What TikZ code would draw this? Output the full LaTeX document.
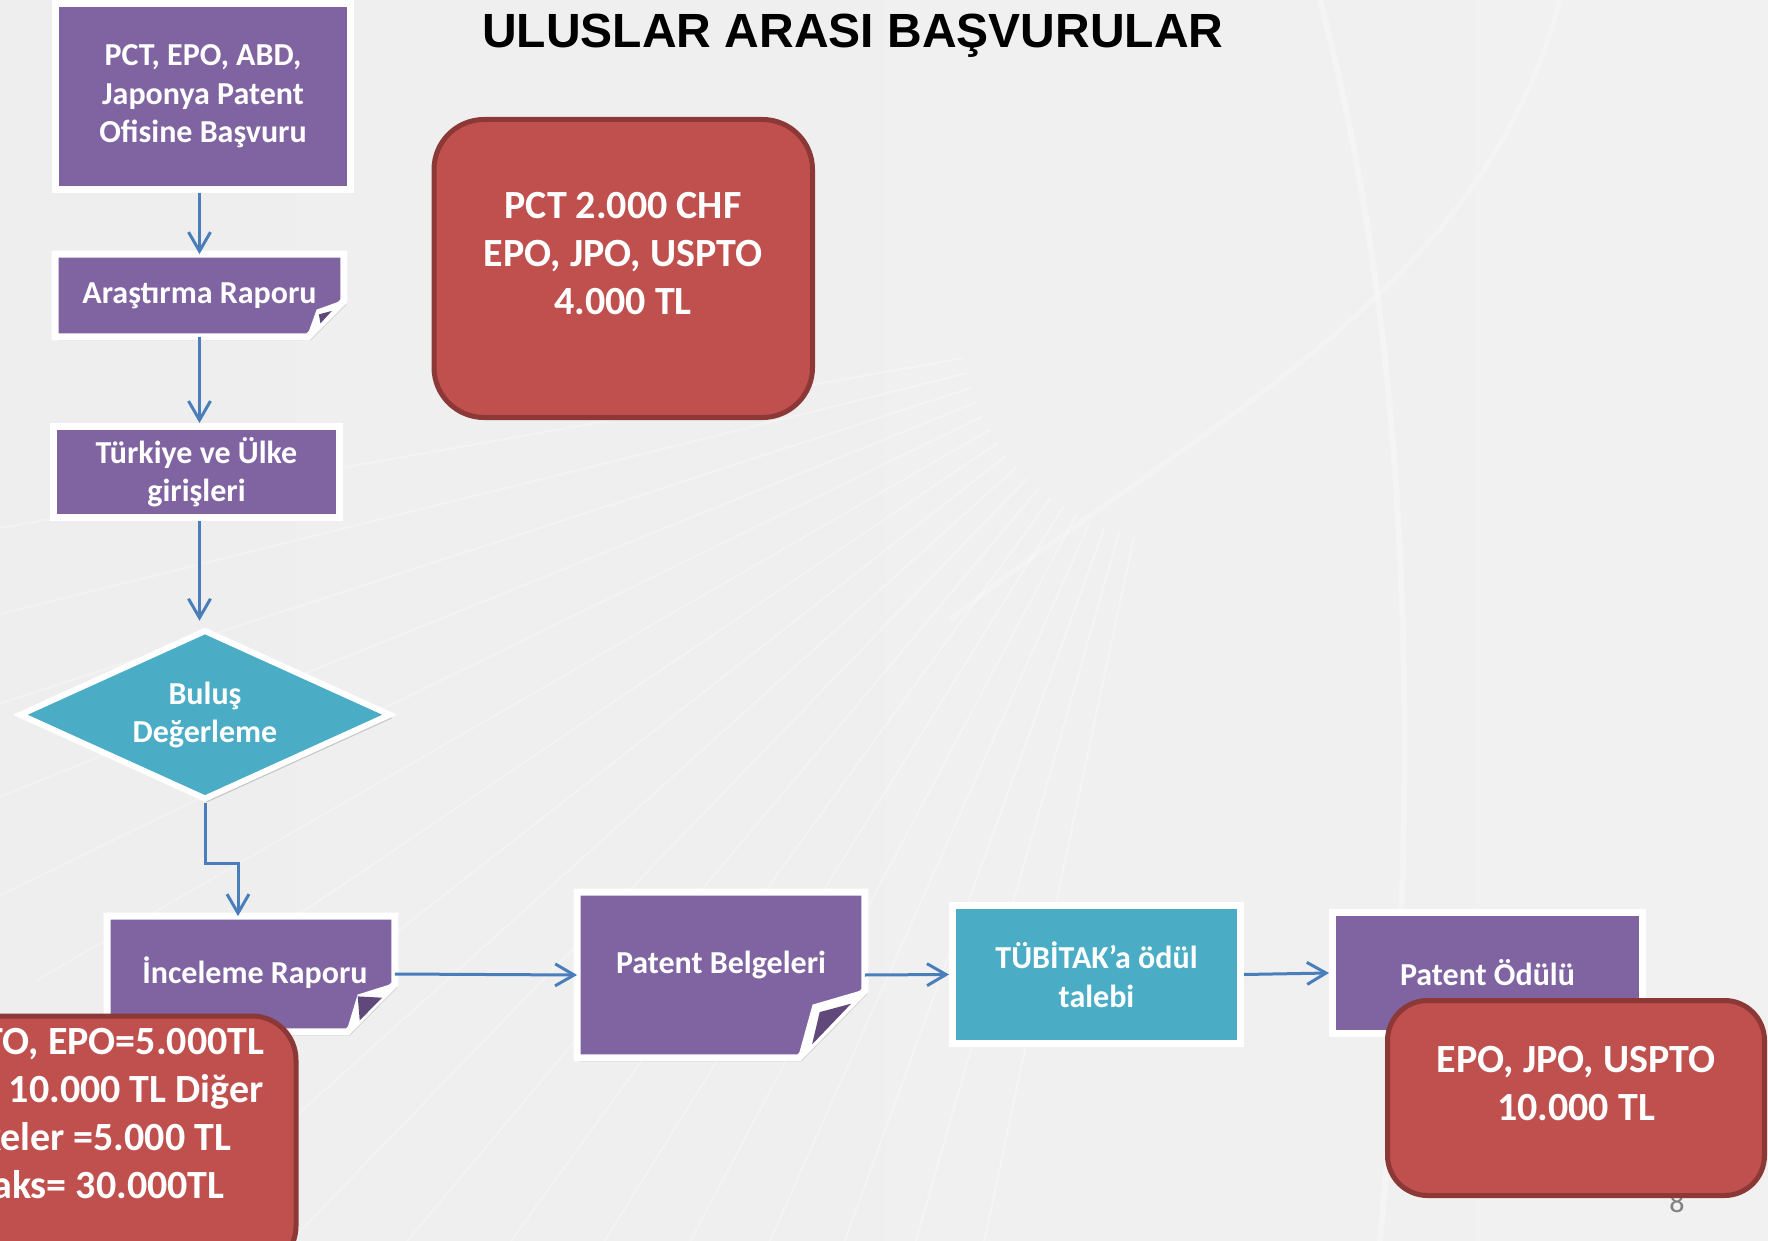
\documentclass[tikz,border=0pt]{standalone}
\usepackage{fontspec}
\newfontfamily\carl{Carlito}
\newfontfamily\arialf{Liberation Sans}
\usetikzlibrary{shapes.geometric,arrows.meta,shadows,calc}
\pgfdeclarelayer{bgzero}
\pgfdeclarelayer{background}
\pgfsetlayers{bgzero,background,main}
\definecolor{purp}{RGB}{128,100,162}
\definecolor{purpdark}{RGB}{96,73,122}
\definecolor{aqua}{RGB}{75,172,198}
\definecolor{redf}{RGB}{192,80,77}
\definecolor{redd}{RGB}{140,56,54}
\definecolor{arrblue}{RGB}{74,126,187}
\definecolor{bgl}{RGB}{238,238,238}
\definecolor{bgm}{RGB}{246,246,246}
\definecolor{bgr}{RGB}{241,241,241}
\tikzset{
  shad/.style={drop shadow={shadow xshift=1.2pt, shadow yshift=-1.8pt, opacity=0.16, fill=black}},
  boxtxt/.style={text=white, font=\carl\bfseries\fontsize{16}{19.25}\selectfont, align=center, inner sep=0pt},
  pbox/.style={boxtxt, rectangle, fill=purp, draw=white, line width=3.5pt, shad},
  abox/.style={boxtxt, rectangle, fill=aqua, draw=white, line width=3.5pt, shad},
  foldtxt/.style={boxtxt, rectangle},
  foldshape/.style={fill=purp, draw=white, line width=3.5pt, shad},
  flapwhite/.style={fill=white, draw=white, line width=1pt},
  flapdark/.style={fill=purpdark},
  redbox/.style={rectangle, fill=redf, draw=redd, line width=2.5pt, inner sep=0pt},
  redtxt/.style={text=white, font=\carl\bfseries\fontsize{20}{24}\selectfont, align=center, inner sep=0pt},
  arr/.style={draw=arrblue, line width=1.5pt, -{Straight Barb[length=9.5pt, width=11pt, line width=1.5pt]}},
  streak/.style={draw=white, line width=1pt, opacity=0.28},
}
\begin{document}
\begin{tikzpicture}[x=0.5pt, y=-0.5pt]
\useasboundingbox (0,0) rectangle (1768,1241);
\begin{pgfonlayer}{bgzero}
  \shade[left color=bgl, middle color=bgm, right color=bgr] (0,0) rectangle (1768,1241);
  \begin{scope}
    \clip (0,0) rectangle (1768,1241);
    \foreach \a in {102,106,...,170} {
      \draw[streak] (1180,320) ++(\a:220) -- ++(\a:1100);
    }
    \draw[draw=white, line width=3pt, opacity=0.3] (1320,0) .. controls (1400,300) and (1430,700) .. (1380,1241);
    \draw[draw=white, line width=2.5pt, opacity=0.25] (1560,0) .. controls (1480,300) and (1200,420) .. (950,620);
  \end{scope}
\end{pgfonlayer}

% title
\node[anchor=base, font=\arialf\bfseries\fontsize{24}{28}\selectfont, text=black, inner sep=0pt] (title) at (853,48) {ULUSLAR ARASI BAŞVURULAR};

% left column
\node[pbox, minimum width=147.5pt, minimum height=93pt] (top) at (203,96.5) {PCT, EPO, ABD,\\Japonya Patent\\Ofisine Başvuru};
\node[foldtxt, minimum width=144pt, minimum height=41pt] (ara) at (199.5,295.5) {Araştırma Raporu};
\node[pbox, minimum width=143pt, minimum height=45.5pt] (tur) at (196.5,472) {Türkiye ve Ülke\\girişleri};
\node[shape=diamond, minimum width=186pt, minimum height=85pt, inner sep=0pt, fill=aqua, draw=white, line width=3pt, shad] (dia) at (205,714.75) {};
\node[boxtxt] (diat) at (205,714.75) {Buluş\\Değerleme};

% bottom row
\node[foldtxt, minimum width=143.5pt, minimum height=57.5pt] (inc) at (251,974) {\hspace*{4pt}\raisebox{4pt}{İnceleme Raporu}};
\node[foldtxt, minimum width=143.5pt, minimum height=82.5pt] (belg) at (721,975) {\raisebox{13pt}{Patent Belgeleri}};
\node[abox, minimum width=144pt, minimum height=69pt] (tub) at (1096.5,974.5) {TÜBİTAK’a ödül\\talebi};
\node[pbox, minimum width=155pt, minimum height=60.5pt] (odul) at (1487.5,973) {Patent Ödülü};

% folded-corner shapes
\begin{pgfonlayer}{background}
  \path[foldshape] (ara.north west) -- (ara.north east) -- ($(ara.south east)+(0,-36)$) -- ($(ara.south east)+(-36,0)$) -- (ara.south west) -- cycle;
  \path[flapwhite] ($(ara.south east)+(0,-36)$) -- ($(ara.south east)+(-26.5,-26.5)$) -- ($(ara.south east)+(-36,0)$) -- cycle;
  \path[flapdark] ($(ara.south east)+(-25,-22.5)$) -- ($(ara.south east)+(-12,-26)$) -- ($(ara.south east)+(-23.5,-13.5)$) -- cycle;

  \path[foldshape] (inc.north west) -- (inc.north east) -- ($(inc.south east)+(0,-48)$) -- ($(inc.south east)+(-47.5,0)$) -- (inc.south west) -- cycle;
  \path[flapwhite] ($(inc.south east)+(0,-48)$) -- ($(inc.south east)+(-36.5,-36.5)$) -- ($(inc.south east)+(-47.5,0)$) -- cycle;
  \path[flapdark] ($(inc.south east)+(-37.2,-35.5)$) -- ($(inc.south east)+(-12.8,-34.2)$) -- ($(inc.south east)+(-35.2,-11.5)$) -- cycle;

  \path[foldshape] (belg.north west) -- (belg.north east) -- ($(belg.south east)+(0,-67.5)$) -- ($(belg.south east)+(-66,0)$) -- (belg.south west) -- cycle;
  \path[flapwhite] ($(belg.south east)+(0,-67.5)$) -- ($(belg.south east)+(-51.5,-52.5)$) -- ($(belg.south east)+(-66,0)$) -- cycle;
  \path[flapdark] ($(belg.south east)+(-45.2,-45.8)$) -- ($(belg.south east)+(-13.8,-54.2)$) -- ($(belg.south east)+(-52.8,-13.5)$) -- cycle;
\end{pgfonlayer}

% connectors
\draw[arr] (ara.north |- top.south) -- (ara.north);
\draw[arr] (ara.south) -- (ara.south |- tur.north);
\draw[arr, shorten >=3pt] (ara.south |- tur.south) -- (ara.south |- dia.north);
\draw[arr] (dia.south) -- ++(0,61) -| ($(inc.north)+(-13,0)$);
\draw[arr] (inc.east) -- (belg.west);
\draw[arr] (belg.east) -- (tub.west);
\draw[arr] (tub.east) -- (odul.west);

% page number (mostly hidden)
\node[anchor=base, text=gray, font=\carl\fontsize{15}{18}\selectfont, inner sep=0pt] (pgnum) at (1677,1212) {8};

% red cost boxes
\node[redbox, rounded corners=25pt, minimum width=189.25pt, minimum height=149pt] (redc) at (623.25,268.5) {};
\node[redtxt] (redct) at (623,254) {PCT 2.000 CHF\\EPO, JPO, USPTO\\4.000 TL};

\node[redbox, rounded corners=22pt, minimum width=206pt, minimum height=127pt] (redl) at (90,1143) {};
\node[redtxt] (redlt) at (91,1114) {USPTO, EPO=5.000TL\\JPO= 10.000 TL Diğer\\ülkeler =5.000 TL\\Maks= 30.000TL};

\node[redbox, rounded corners=20pt, minimum width=188.5pt, minimum height=97.5pt] (redr) at (1576,1098) {};
\node[redtxt] (redrt) at (1576,1084) {EPO, JPO, USPTO\\10.000 TL};
\end{tikzpicture}
\end{document}
